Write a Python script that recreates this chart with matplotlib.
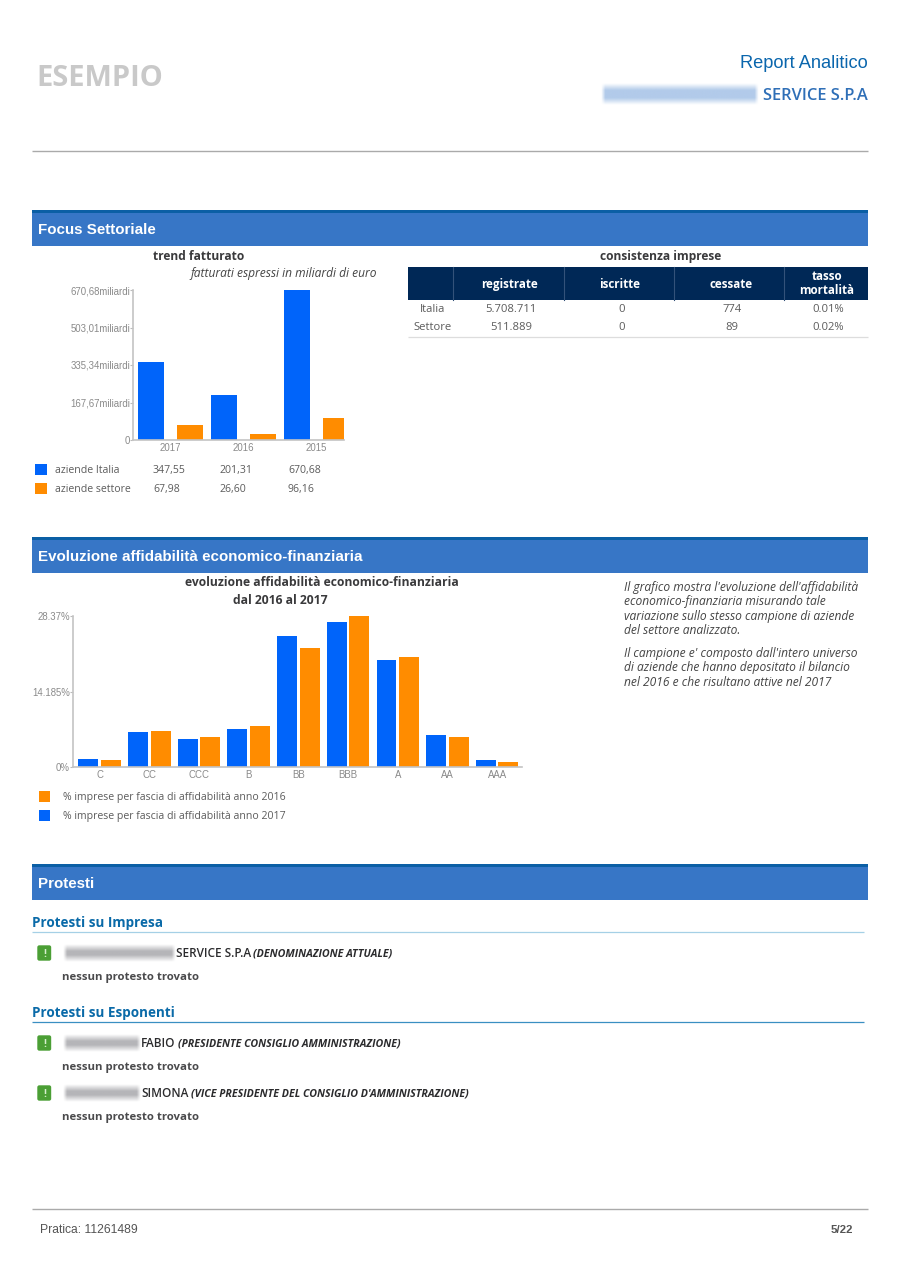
"""
plot.py - report page "Focus Settoriale / affidabilita / Protesti" rebuilt with matplotlib.
"""

import numpy as np
import matplotlib
matplotlib.use("Agg")
import matplotlib.pyplot as plt
from matplotlib.patches import Rectangle, FancyBboxPatch

BODY = "Open Sans"
HEAD = "Liberation Sans"
BLUE = "#0064fa"
ORANGE = "#ff8c00"
NAVY = "#002856"
BAND = "#3776c6"
BAND_TOP = "#0b5fa5"
DARK = "#3a3a3c"
SOFT = "#5c5c5c"
GREY = "#8a8a8a"

# trend fatturato
years = ["2017", "2016", "2015"]
aziende_italia = [347.55, 201.31, 670.68]
aziende_settore = [67.98, 26.60, 96.16]
italia_labels = ["347,55", "201,31", "670,68"]
settore_labels = ["67,98", "26,60", "96,16"]
trend_ticks = [0, 167.67, 335.34, 503.01, 670.68]
trend_tick_labels = ["0", "167,67miliardi", "335,34miliardi", "503,01miliardi", "670,68miliardi"]

# consistenza imprese
table_cols = ["registrate", "iscritte", "cessate", "tasso\nmortalità"]
table_rows = ["Italia", "Settore"]
row_italia = ["5.708.711", "0", "774", "0.01%"]
row_settore = ["511.889", "0", "89", "0.02%"]

# affidabilita
classes = ["C", "CC", "CCC", "B", "BB", "BBB", "A", "AA", "AAA"]
pct_2017 = [1.57, 6.53, 5.2, 7.2, 24.7, 27.2, 20.1, 6.1, 1.38]
pct_2016 = [1.26, 6.72, 5.7, 7.7, 22.4, 28.37, 20.6, 5.65, 0.94]
pct_ticks = [0, 14.185, 28.37]
pct_tick_labels = ["0%", "14.185%", "28.37%"]

note_lines_1 = [
    "Il grafico mostra l'evoluzione dell'affidabilità",
    "economico-finanziaria misurando tale",
    "variazione sullo stesso campione di aziende",
    "del settore analizzato.",
]
note_lines_2 = [
    "Il campione e' composto dall'intero universo",
    "di aziende che hanno depositato il bilancio",
    "nel 2016 e che risultano attive nel 2017",
]

W, H = 900, 1273


def px_axes(fig, left, top, right, bottom):
    """Axes placed by page pixels."""
    return fig.add_axes([left / W, 1 - bottom / H, (right - left) / W, (bottom - top) / H])


def txt(ax, x, y, s, size=12, color=DARK, family=BODY, weight="normal", style="normal",
        ha="left", **kw):
    # size is in page pixels, y is the middle of the x-height line so mixed text lines up
    if "\n" in s:
        return ax.text(x, y, s, fontsize=size * 0.72, color=color, family=family, weight=weight,
                       style=style, ha=ha, va="center", **kw)
    return ax.text(x, y + size * 0.36, s, fontsize=size * 0.72, color=color, family=family,
                   weight=weight, style=style, ha=ha, va="baseline", **kw)


def hline(ax, x0, x1, y, color, lw=0.9):
    ax.plot([x0, x1], [y, y], color=color, lw=lw, solid_capstyle="butt")


def blur(ax, x0, x1, y0, y1, color, alpha=0.6):
    """Soft blob standing in for the redacted name."""
    xs = np.linspace(x0, x1, 200)
    ys = np.linspace(y0, y1, 40)
    ramp_x = np.clip(np.minimum(xs - x0, x1 - xs) / 4, 0, 1)
    ramp_y = np.clip(np.minimum(ys - y0, y1 - ys) / 7, 0, 1)
    rgba = np.zeros((40, 200, 4))
    rgba[..., :3] = matplotlib.colors.to_rgb(color)
    rgba[..., 3] = np.outer(ramp_y, ramp_x) * alpha
    ax.imshow(rgba, extent=(x0, x1, y1, y0), aspect="auto", zorder=1, interpolation="bilinear")


def section_band(ax, y, title):
    ax.add_patch(Rectangle((32, y), 836, 36, color=BAND, lw=0))
    ax.add_patch(Rectangle((32, y), 836, 3, color=BAND_TOP, lw=0))
    txt(ax, 38, y + 19, title, size=15.1, color="white", family=HEAD, weight="bold")


def style_chart(ax):
    for side in ["top", "right"]:
        ax.spines[side].set_visible(False)
    for side in ["left", "bottom"]:
        ax.spines[side].set_color("#c4c4c4")
        ax.spines[side].set_linewidth(1.2)
    ax.tick_params(axis="y", length=2, width=0.8, color="#bbbbbb", labelcolor=GREY,
                   labelsize=9.6 * 0.72, pad=0.2)
    ax.tick_params(axis="x", length=0, labelcolor=GREY, labelsize=9.6 * 0.72, pad=2.5)
    for lab in ax.get_xticklabels() + ax.get_yticklabels():
        lab.set_family(HEAD)


def chart_trend(fig):
    ax = px_axes(fig, 133, 290, 344, 440)
    x = np.arange(len(years))
    ax.bar(x - 0.267, aziende_italia, 0.356, color=BLUE)
    ax.bar(x + 0.267, aziende_settore, 0.356, color=ORANGE)
    ax.set_xlim(-0.514, 2.377)
    ax.set_ylim(0, 670.68)
    ax.set_xticks(x, years)
    ax.set_yticks(trend_ticks, trend_tick_labels)
    style_chart(ax)


def chart_rating(fig):
    ax = px_axes(fig, 73, 616, 522, 767)
    x = np.arange(len(classes))
    ax.bar(x - 0.227, pct_2017, 0.40, color=BLUE)
    ax.bar(x + 0.227, pct_2016, 0.40, color=ORANGE)
    ax.set_xlim(-0.536, 8.50)
    ax.set_ylim(0, 28.37)
    ax.set_xticks(x, classes)
    ax.set_yticks(pct_ticks, pct_tick_labels)
    style_chart(ax)


def draw_table(ax):
    txt(ax, 660.5, 256, "consistenza imprese", size=12, weight="bold", ha="center")
    ax.add_patch(Rectangle((408, 267), 460, 33, color=NAVY, lw=0))
    for sep in [453, 564, 674, 784]:
        ax.plot([sep, sep], [267, 300], color="#33527a", lw=0.8)
    centers = [510, 620, 731, 827]
    for cx, col in zip(centers, table_cols):
        txt(ax, cx, 283.5, col, size=11.6, color="white", weight="bold", ha="center",
            linespacing=1.0, multialignment="center")
    for y, name, row in zip([308, 326], table_rows, [row_italia, row_settore]):
        txt(ax, 433, y, name, size=11.3, color=SOFT, ha="center")
        for cx, val in zip([511, 622, 732, 828], row):
            txt(ax, cx, y, val, size=11.3, color=SOFT, ha="center")
    hline(ax, 408, 868, 336.5, "#dddddd")


def warn_icon(ax, y):
    ax.add_patch(FancyBboxPatch((38.5, y - 6.5), 11.5, 13, boxstyle="round,pad=1.2,rounding_size=2",
                                fc="#4b9f35", ec="none"))
    txt(ax, 44.5, y, "!", size=10, color="#d8efd0", weight="bold", ha="center")


def protest_row(ax, y, blur_end, name, name_x, role, role_x):
    warn_icon(ax, y)
    blur(ax, 63, blur_end, y - 9, y + 9, "#84848a")
    txt(ax, name_x, y, name, size=11.7, weight="semibold", color="#2b2b2d")
    txt(ax, role_x, y, role, size=10.6, weight="bold", style="italic", color="#2b2b2d")
    txt(ax, 62.5, y + 23, "nessun protesto trovato", size=11.4, weight="bold", color="#4a4a4c")


def main():
    fig = plt.figure(figsize=(W / 100, H / 100), dpi=100)
    page = fig.add_axes([0, 0, 1, 1])
    page.axis("off")

    # header
    txt(page, 36, 75.5, "ESEMPIO", size=29, color="#c9c9c9", weight="bold")
    txt(page, 868, 61, "Report Analitico", size=18.3, color="#0a66ad", family=HEAD, ha="right")
    blur(page, 601, 759, 83, 105, "#7fa8dc")
    txt(page, 868, 94, "SERVICE S.P.A", size=16.5, color="#2f6fb7", weight="semibold", ha="right")
    hline(page, 32, 868, 151, "#aaaaaa", lw=1.0)

    # focus settoriale
    section_band(page, 210, "Focus Settoriale")
    txt(page, 198.5, 256, "trend fatturato", size=12, weight="bold", ha="center")
    txt(page, 377, 273, "fatturati espressi in miliardi di euro", size=12, style="italic", ha="right",
        color="#444444")
    for y, color, name, labels in zip([469, 488], [BLUE, ORANGE], ["aziende Italia", "aziende settore"],
                                      [italia_labels, settore_labels]):
        page.add_patch(Rectangle((35, y - 5.5), 12, 11.5, color=color, lw=0))
        txt(page, 55, y, name, size=10.5, color=SOFT)
        for lx, lab in zip([153, 220, 288], labels):
            txt(page, lx, y, lab, size=10.5, color=SOFT)
    draw_table(page)

    # affidabilita
    section_band(page, 537, "Evoluzione affidabilità economico-finanziaria")
    txt(page, 322, 582, "evoluzione affidabilità economico-finanziaria", size=12.1, weight="bold", ha="center")
    txt(page, 280, 600, "dal 2016 al 2017", size=12.1, weight="bold", ha="center")
    for y, color, name in zip([796.5, 815], [ORANGE, BLUE],
                              ["% imprese per fascia di affidabilità anno 2016",
                               "% imprese per fascia di affidabilità anno 2017"]):
        page.add_patch(Rectangle((39, y - 5.5), 11, 11, color=color, lw=0))
        txt(page, 63, y, name, size=10.45, color=SOFT)
    for y, line in zip([587, 601, 616, 630], note_lines_1):
        txt(page, 624, y, line, size=12, style="italic", color="#444444")
    for y, line in zip([653, 667, 682], note_lines_2):
        txt(page, 624, y, line, size=12, style="italic", color="#444444")

    # protesti
    section_band(page, 864, "Protesti")
    txt(page, 32, 922, "Protesti su Impresa", size=13.5, color="#0a6aa8", weight="bold")
    hline(page, 32, 864, 932, "#a5d0e6")
    protest_row(page, 953, 176, "SERVICE S.P.A", 176.5, "(DENOMINAZIONE ATTUALE)", 252.8)
    txt(page, 32, 1012, "Protesti su Esponenti", size=13.5, color="#0a6aa8", weight="bold")
    hline(page, 32, 864, 1021.5, "#3a8fc2")
    protest_row(page, 1043, 141, "FABIO", 141, "(PRESIDENTE CONSIGLIO AMMINISTRAZIONE)", 177.7)
    protest_row(page, 1093, 141, "SIMONA", 141, "(VICE PRESIDENTE DEL CONSIGLIO D'AMMINISTRAZIONE)", 190.8)

    # footer
    hline(page, 32, 868, 1209, "#aaaaaa", lw=1.0)
    txt(page, 40, 1229, "Pratica: 11261489", size=12.1, color="#555555", family=HEAD)
    txt(page, 853, 1229, "5/22", size=11.5, color="#555555", family=HEAD, weight="bold", ha="right")

    page.set_xlim(0, W)
    page.set_ylim(H, 0)

    chart_trend(fig)
    chart_rating(fig)

    fig.savefig("out.png", dpi=100, facecolor="white")
    plt.close(fig)


if __name__ == "__main__":
    main()
